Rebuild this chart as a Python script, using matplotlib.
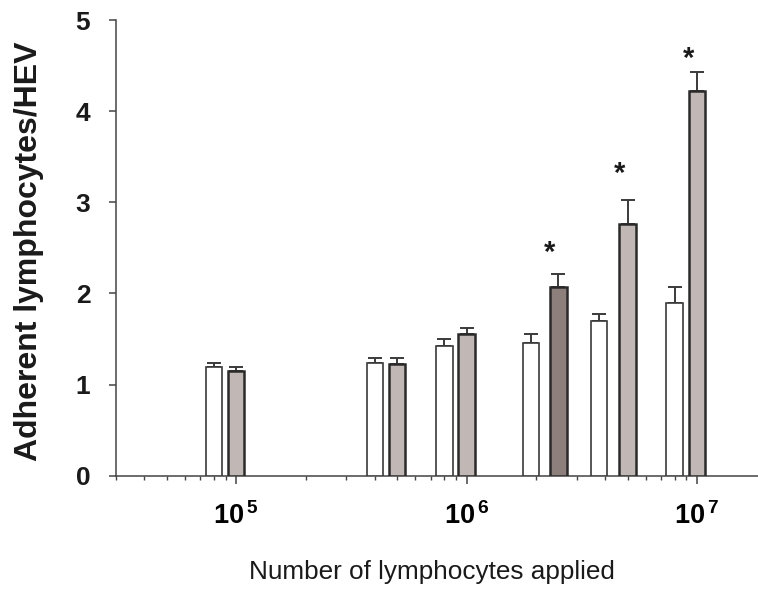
import numpy as np
import matplotlib
matplotlib.use("Agg")
import matplotlib.pyplot as plt
from matplotlib.ticker import FixedLocator, NullFormatter, LogLocator

plt.rcParams['font.family'] = ['Liberation Sans', 'DejaVu Sans']
plt.rcParams['mathtext.fontset'] = 'custom'
plt.rcParams['mathtext.rm'] = 'Liberation Sans'
plt.rcParams['mathtext.bf'] = 'Liberation Sans:bold'

# cells applied per group (white = control, grey = treated)
x_white = [8e4, 4e5, 8e5, 1.9e6, 3.75e6, 8e6]
x_grey = [1e5, 5e5, 1e6, 2.5e6, 5e6, 1e7]
white_vals = [1.19, 1.24, 1.42, 1.46, 1.70, 1.90]
white_err = [0.045, 0.05, 0.075, 0.095, 0.07, 0.17]
grey_vals = [1.145, 1.23, 1.55, 2.07, 2.76, 4.22]
grey_err = [0.048, 0.06, 0.073, 0.14, 0.27, 0.21]
grey_colors = ['#c1b7b4', '#c1b7b4', '#c1b7b4', '#8d7f7b', '#c1b7b4', '#c1b7b4']

# significance stars (x, centre height)
star_x = [2.5e6, 5e6, 1e7]
star_y = [2.49, 3.35, 4.62]

major_ticks = [1e5, 1e6, 1e7]
major_labels = [r'$\mathbf{10^{\,5}}$', r'$\mathbf{10^{\,6}}$', r'$\mathbf{10^{\,7}}$']


def log_bar(ax, xs, heights, dec_width, **kw):
    xs = np.asarray(xs)
    half = 10 ** (dec_width / 2)
    left = xs / half
    ax.bar(left, heights, width=xs * half - left, align='edge', **kw)


fig = plt.figure(figsize=(7.58, 5.93), dpi=100)
ax = fig.add_axes([0.1526, 0.198, 0.8474, 0.768])

ax.set_xscale('log')
ax.set_xlim(3.0e4, 1.84e7)
ax.set_ylim(0, 5)

w = 0.072
log_bar(ax, x_white, white_vals, w, color='white', edgecolor='#3a3a3a', linewidth=1.2, zorder=3)
log_bar(ax, x_grey, grey_vals, w, color=grey_colors, edgecolor='#2a2a2a', linewidth=1.8, zorder=3)

ax.errorbar(x_white, white_vals, yerr=[np.zeros(len(white_err)), white_err], fmt='none',
            ecolor='#3a3a3a', elinewidth=1.4, capsize=5.2, capthick=1.4, zorder=2)
ax.errorbar(x_grey, grey_vals, yerr=[np.zeros(len(grey_err)), grey_err], fmt='none',
            ecolor='#3a3a3a', elinewidth=1.4, capsize=5.2, capthick=1.4, zorder=2)

for sx, sy in zip(star_x, star_y):
    ax.annotate('*', (sx, sy), xytext=(-6, -8.5), textcoords='offset points',
                ha='center', va='baseline', fontsize=21, fontweight='bold', color='#1a1a1a')

for side in ['top', 'right']:
    ax.spines[side].set_visible(False)
for side in ['left', 'bottom']:
    ax.spines[side].set_color('#444444')
    ax.spines[side].set_linewidth(1.1)

ax.xaxis.set_major_locator(FixedLocator(major_ticks))
ax.set_xticklabels(major_labels)
ax.xaxis.set_minor_locator(LogLocator(base=10, subs=np.arange(2, 10)))
ax.xaxis.set_minor_formatter(NullFormatter())
ax.tick_params(axis='x', which='major', length=5.5, width=1.1, color='#444444',
               labelsize=19.5, pad=14)
ax.tick_params(axis='x', which='minor', length=3, width=1.0, color='#444444')

ax.set_yticks([0, 1, 2, 3, 4, 5])
ax.tick_params(axis='y', length=5.3, width=1.1, color='#444444', labelsize=19, pad=13)
for lab in ax.get_yticklabels():
    lab.set_fontweight('bold')
    lab.set_color('#1a1a1a')

ax.set_ylabel('Adherent lymphocytes/HEV', fontsize=23, fontweight='bold', color='#1a1a1a')
ax.yaxis.set_label_coords(-0.112, 0.493)
ax.set_xlabel('Number of lymphocytes applied', fontsize=18.8, color='#1a1a1a')
ax.xaxis.set_label_coords(0.493, -0.185)

fig.savefig('out.png', dpi=100)
